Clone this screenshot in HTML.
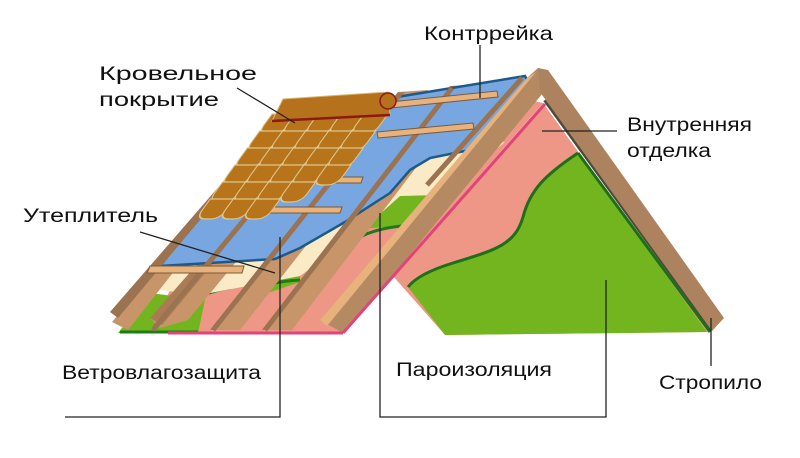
<!DOCTYPE html>
<html><head><meta charset="utf-8"><style>
html,body{margin:0;padding:0;background:#fff}
svg{display:block}
text{font-family:"Liberation Sans",sans-serif;font-size:19px;fill:#111}
</style></head><body>
<svg width="800" height="458" viewBox="0 0 800 458" xmlns="http://www.w3.org/2000/svg">
<defs>
<path id="tl" d="M0,0 h24 v11 q0,9 -10,9 h-4 q-10,0 -10,-9 z" fill="#b8741a" stroke="#dcc68c" stroke-width="1.3"/>
</defs>
<rect width="800" height="458" fill="#fff"/>

<!-- right gable -->
<polygon points="543,103 393,276 445,335 708,332" fill="#ee9786"/>
<path d="M578,153 C545,175 530,190 523,217 C515,245 495,250 453,263 C430,270 415,278 408,287 L445,335 L707,332 Z" fill="#72b51f"/>
<path d="M578,153 C545,175 530,190 523,217 C515,245 495,250 453,263 C430,270 415,278 408,287" fill="none" stroke="#1f6e1a" stroke-width="3"/>
<line x1="545" y1="100" x2="712" y2="330" stroke="#4b4a3c" stroke-width="4"/>
<line x1="578" y1="153" x2="710" y2="332" stroke="#1f6e1a" stroke-width="3"/>

<!-- left slope underside -->
<polygon points="150,333 343,333 543,103 520,98 300,230 170,290" fill="#ee9786"/>
<polygon points="118,333 198,333 205,300 150,293" fill="#72b51f"/>
<line x1="120" y1="332" x2="198" y2="332" stroke="#1f7a1a" stroke-width="3"/>
<polygon points="330,262 380,210 395,193 432,192 402,226 370,228 345,246" fill="#72b51f"/>
<path d="M330,262 C345,245 360,230 402,226" fill="none" stroke="#1f7a1a" stroke-width="3"/>
<polygon points="262,275 300,262 300,282 268,293" fill="#72b51f"/>
<path d="M188,302 C200,296 215,290 230,288" stroke="#1f7a1a" stroke-width="3" fill="none"/>
<path d="M253,290 C262,285 280,281 300,280" stroke="#1f7a1a" stroke-width="3" fill="none"/>
<!-- cream insulation -->
<polygon points="160,290 168,266 280,260 390,195 420,160 470,148 505,142 440,195 400,196 360,232 300,276 200,295" fill="#faebc6"/>

<!-- rafters wide -->
<g fill="#c8956a">
<polygon points="300,98 310,98 128,330 112,322"/>
<polygon points="345,96 375,94 188,320 160,328 150,318"/>
<polygon points="398,92 428,90 240,330 210,330"/>
<polygon points="450,86 480,84 292,330 262,330"/>
</g>
<g fill="#a97c55">
<polygon points="345,96 352,96 162,325 150,318"/>
<polygon points="398,92 405,92 216,330 210,330"/>
<polygon points="450,86 457,86 268,330 262,330"/>
</g>
<polygon points="294,100 300,100 118,318 110,312" fill="#9b7350"/>

<!-- blue membrane -->
<polygon points="160,266 275,259 300,248 345,222 390,193 410,170 430,158 470,150 528,82 525,76 397,97 272,122" fill="#78a6e0" stroke="#1d5a8a" stroke-width="2.5"/>

<!-- counter battens -->
<g stroke="#9b7350" stroke-width="5">
<line x1="345" y1="98" x2="153" y2="330"/>
<line x1="400" y1="94" x2="213" y2="330"/>
<line x1="452" y1="88" x2="265" y2="330"/>
<line x1="522" y1="78" x2="427" y2="185"/>
<line x1="296" y1="102" x2="116" y2="316"/>
</g>

<!-- battens -->
<g fill="#e7b27c" stroke="#7a5a3a" stroke-width="1">
<polygon points="390,102 497,91 498,97 391,108"/>
<polygon points="377,132 473,123 474,129 378,138"/>
<polygon points="290,177 363,177 361,183 288,183"/>
<polygon points="263,207 342,207 340,213 261,213"/>
<polygon points="150,266 244,266 242,273 147,273"/>
</g>

<!-- front rafter -->
<polygon points="527,78 538,68 552,82 352,325 343,333 320,320" fill="#b58a63"/>
<polygon points="527,78 536,72 327,326 320,320" fill="#e8b27c"/>
<line x1="545" y1="104" x2="343" y2="333" stroke="#e0457a" stroke-width="3"/>
<line x1="343" y1="333" x2="168" y2="333" stroke="#e0457a" stroke-width="3"/>
<!-- right rafter -->
<polygon points="538,68 548,70 724,318 712,331 540,92" fill="#ad825e"/>

<!-- tiles (skewed grid) -->
<g transform="translate(272,114) skewX(-36)">
<use href="#tl" x="0" y="0"/><use href="#tl" x="23" y="0"/><use href="#tl" x="46" y="0"/><use href="#tl" x="69" y="0"/><use href="#tl" x="92" y="0"/>
<use href="#tl" x="0" y="17"/><use href="#tl" x="23" y="17"/><use href="#tl" x="46" y="17"/><use href="#tl" x="69" y="17"/><use href="#tl" x="92" y="17"/>
<use href="#tl" x="0" y="34"/><use href="#tl" x="23" y="34"/><use href="#tl" x="46" y="34"/><use href="#tl" x="69" y="34"/><use href="#tl" x="92" y="34"/>
<use href="#tl" x="0" y="51"/><use href="#tl" x="23" y="51"/><use href="#tl" x="46" y="51"/><use href="#tl" x="69" y="51"/><use href="#tl" x="92" y="51"/>
<use href="#tl" x="0" y="68"/><use href="#tl" x="23" y="68"/><use href="#tl" x="46" y="68"/><use href="#tl" x="69" y="68"/>
<use href="#tl" x="0" y="85"/><use href="#tl" x="23" y="85"/><use href="#tl" x="46" y="85"/>
</g>
<!-- ridge tile -->
<polygon points="283,99 388,92 390,115 272,121" fill="#b5711c" stroke="#d8b878" stroke-width="1"/>
<line x1="272" y1="121" x2="390" y2="115" stroke="#8b1a10" stroke-width="2.5"/>
<circle cx="388" cy="101" r="8" fill="#b5711c" stroke="#8b1a10" stroke-width="1.5"/>

<!-- leader lines -->
<g stroke="#222" stroke-width="1.3" fill="none">
<line x1="237" y1="88" x2="295" y2="123"/>
<line x1="480" y1="45" x2="480" y2="98"/>
<line x1="542" y1="131" x2="617" y2="131"/>
<line x1="140" y1="232" x2="275" y2="273"/>
<polyline points="65,417 280,417 280,237"/>
<polyline points="380,213 380,417 606,417 606,280"/>
<line x1="711" y1="318" x2="711" y2="366"/>
</g>

<!-- labels -->
<text x="99" y="80" textLength="158" lengthAdjust="spacingAndGlyphs">Кровельное</text>
<text x="99" y="106" textLength="120" lengthAdjust="spacingAndGlyphs">покрытие</text>
<text x="424" y="40" textLength="129" lengthAdjust="spacingAndGlyphs">Контррейка</text>
<text x="627" y="131" textLength="125" lengthAdjust="spacingAndGlyphs">Внутренняя</text>
<text x="627" y="157" textLength="84" lengthAdjust="spacingAndGlyphs">отделка</text>
<text x="23" y="222" textLength="135" lengthAdjust="spacingAndGlyphs">Утеплитель</text>
<text x="62" y="379" textLength="199" lengthAdjust="spacingAndGlyphs">Ветровлагозащита</text>
<text x="396" y="376" textLength="156" lengthAdjust="spacingAndGlyphs">Пароизоляция</text>
<text x="659" y="389" textLength="103" lengthAdjust="spacingAndGlyphs">Стропило</text>
</svg>
</body></html>
